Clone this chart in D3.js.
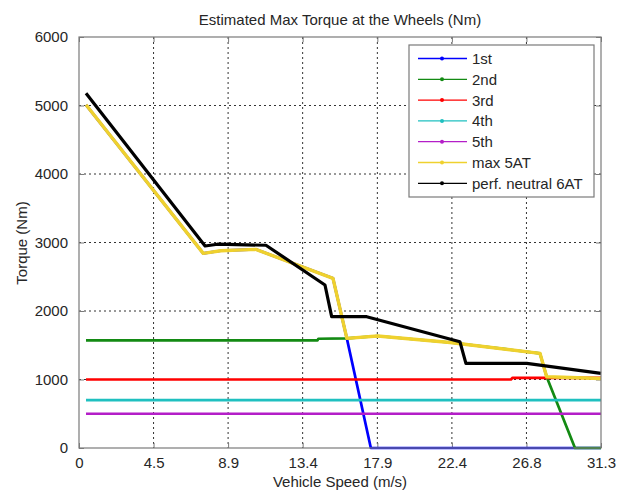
<!DOCTYPE html>
<html><head><meta charset="utf-8">
<script src="https://cdn.jsdelivr.net/npm/d3@7"></script>
<style>body{margin:0;background:#fff}svg{display:block}text{font-family:"Liberation Sans",Arial,sans-serif}</style>
</head><body><svg id="c" width="629" height="492"></svg>
<script>
// ---- data ----
const xTickValues = [0, 4.47, 8.94, 13.41, 17.89, 22.36, 26.83, 31.3];
const xTickLabels = ["0", "4.5", "8.9", "13.4", "17.9", "22.4", "26.8", "31.3"];
const yTickValues = [0, 1000, 2000, 3000, 4000, 5000, 6000];
const seriesNames = ["1st", "2nd", "3rd", "4th", "5th", "max 5AT", "perf. neutral 6AT"];
const seriesColors = ["#0000ff", "#138a13", "#ff0000", "#1fc0c0", "#b41ec8", "#efd12e", "#000000"];
const gear1 = [[0.42,5010],[7.45,2842],[8.5,2880],[10.6,2900],[15.23,2477],[16.06,1601],[17.5,0],[31.3,0]];
const gear2 = [[0.42,1570],[14.3,1570],[14.35,1595],[16.06,1601],[17.9,1635],[22.25,1540],[27.64,1382],[28.04,1041],[29.74,0],[31.3,0]];
const gear3 = [[0.42,1000],[25.9,1000],[26.0,1025],[31.3,1025]];
const gear4 = [[0.42,700],[31.3,700]];
const gear5 = [[0.42,500],[31.3,500]];
const max5AT = [[0.42,5010],[7.45,2842],[8.5,2880],[10.6,2900],[15.23,2477],[16.06,1601],[17.9,1635],[22.25,1540],[27.64,1382],[28.04,1041],[31.3,1015]];
const perf6AT = [[0.42,5180],[7.56,2949],[8.3,2975],[11.21,2960],[14.75,2380],[15.15,1917],[17.25,1917],[22.84,1552],[23.2,1236],[26.85,1236],[31.3,1090]];
const allSeries = [gear1, gear2, gear3, gear4, gear5, max5AT, perf6AT];
const seriesWidths = [2.7, 2.7, 2.7, 2.7, 2.7, 3.4, 3.2];

// ---- layout ----
const L = 79, R = 601, T = 37, B = 448;
const svg = d3.select("#c");
const x = d3.scaleLinear().domain([0, 31.3]).range([L, R]);
const y = d3.scaleLinear().domain([0, 6000]).range([B, T]);
const txt = "#262626";

// grid
const g = svg.append("g");
g.selectAll(".gx").data(xTickValues.slice(1, -1)).join("line")
  .attr("x1", d => x(d)).attr("x2", d => x(d)).attr("y1", T).attr("y2", B)
  .attr("stroke", "#333").attr("stroke-width", 1).attr("stroke-dasharray", "2,3");
g.selectAll(".gy").data(yTickValues.slice(1, -1)).join("line")
  .attr("y1", d => y(d)).attr("y2", d => y(d)).attr("x1", L).attr("x2", R)
  .attr("stroke", "#333").attr("stroke-width", 1).attr("stroke-dasharray", "2,3");

// axes
const xAx = d3.axisBottom(x).tickValues(xTickValues).tickFormat((d,i) => xTickLabels[i]).tickSizeInner(-5).tickSizeOuter(0).tickPadding(9);
const xAxTop = d3.axisTop(x).tickValues(xTickValues).tickFormat("").tickSizeInner(-5).tickSizeOuter(0);
const yAx = d3.axisLeft(y).tickValues(yTickValues).tickFormat(d3.format("d")).tickSizeInner(-5).tickSizeOuter(0).tickPadding(11);
const yAxR = d3.axisRight(y).tickValues(yTickValues).tickFormat("").tickSizeInner(-5).tickSizeOuter(0);
function style(sel){
  sel.select(".domain").remove();
  sel.selectAll("line").attr("stroke", "#7a7a7a");
  sel.selectAll("text").attr("fill", txt).style("font-size", "15px").style("font-family", '"Liberation Sans",Arial,sans-serif');
}
svg.append("g").attr("transform", `translate(0,${B})`).call(xAx).call(style);
svg.append("g").attr("transform", `translate(0,${T})`).call(xAxTop).call(style);
svg.append("g").attr("transform", `translate(${L},0)`).call(yAx).call(style);
svg.append("g").attr("transform", `translate(${R},0)`).call(yAxR).call(style);

// lines
const line = d3.line().x(d => x(d[0])).y(d => y(d[1]));
allSeries.forEach((s, i) => {
  svg.append("path").datum(s).attr("d", line).attr("fill", "none")
    .attr("stroke", seriesColors[i]).attr("stroke-width", seriesWidths[i]).attr("stroke-linejoin", "round");
});

// box
svg.append("rect").attr("x", L).attr("y", T).attr("width", R - L).attr("height", B - T)
  .attr("fill", "none").attr("stroke", "#7a7a7a").attr("stroke-width", 1.2);

// labels
svg.append("text").attr("x", 340).attr("y", 25).attr("text-anchor", "middle").attr("fill", txt)
  .style("font-size", "15px").text("Estimated Max Torque at the Wheels (Nm)");
svg.append("text").attr("x", 340).attr("y", 487).attr("text-anchor", "middle").attr("fill", txt)
  .style("font-size", "15px").text("Vehicle Speed (m/s)");
svg.append("text").attr("transform", "translate(27,243) rotate(-90)").attr("text-anchor", "middle").attr("fill", txt)
  .style("font-size", "15px").text("Torque (Nm)");

// legend
const lg = svg.append("g");
lg.append("rect").attr("x", 409).attr("y", 45).attr("width", 185).attr("height", 152)
  .attr("fill", "#fff").attr("stroke", "#7a7a7a").attr("stroke-width", 1.2);
seriesNames.forEach((n, i) => {
  const yy = 58.5 + i * 20.8;
  lg.append("line").attr("x1", 418).attr("x2", 467).attr("y1", yy).attr("y2", yy)
    .attr("stroke", seriesColors[i]).attr("stroke-width", 1.3);
  lg.append("circle").attr("cx", 442).attr("cy", yy).attr("r", 2).attr("fill", seriesColors[i]);
  lg.append("text").attr("x", 472).attr("y", yy + 5.5).attr("fill", txt).style("font-size", "15px").text(n);
});
</script></body></html>
